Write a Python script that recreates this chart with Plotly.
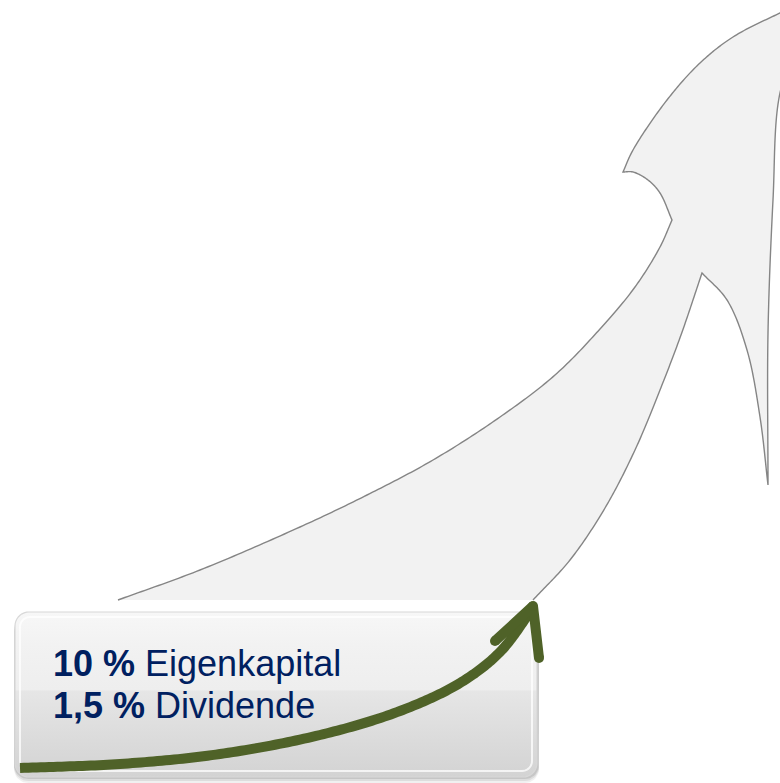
import numpy as np
import plotly.graph_objects as go

W, H = 780, 783

# ---- text content ----
BOLD_PARTS = ["10 %", "1,5 %"]
REG_PARTS = ["Eigenkapital", "Dividende"]
TEXT_ROWS_PY = [663, 705]

# ---- outline of the big grey arrow (pixel coords, y downwards), per segment ----
BODY_UPPER = [(118, 600), (200, 570), (300, 527), (367, 495), (433, 460), (500, 417), (555, 375), (600, 329), (635, 287), (660, 247), (672, 220)]
HEAD_NOTCH = [(672, 220), (660, 193), (648, 180), (633, 172), (623, 172)]
HEAD_LEFT = [(623, 172), (633, 150), (667, 100), (700, 63), (733, 37), (780, 13), (820, -5)]
HEAD_RIGHT = [(835, -20), (800, 40), (780, 93), (773, 200), (768, 333), (768, 485)]
HEAD_INNER = [(768, 485), (760, 417), (747, 350), (727, 300), (702, 273)]
BODY_LOWER = [(702, 273), (681, 335), (660, 390), (635, 450), (605, 508), (570, 560), (533, 600)]

# ---- green growth arrow ----
SHAFT = [(20, 768), (120, 764), (220, 754), (320, 735), (400, 711), (460, 683), (500, 652), (533, 608)]
ARROW_HEAD = [(495, 641), (533, 606), (539, 658)]

# ---- box ----
BOX = (15, 612, 537, 777)   # x0, y0, x1, y1
BOX_R = 14


def catmull(pts, n=24, alpha=0.5):
    p = np.array(pts, dtype=float)
    if len(p) < 3:
        return p
    P = np.vstack([2 * p[0] - p[1], p, 2 * p[-1] - p[-2]])
    out = []
    for i in range(1, len(P) - 2):
        p0, p1, p2, p3 = P[i - 1], P[i], P[i + 1], P[i + 2]
        t0 = 0.0
        t1 = t0 + max(np.linalg.norm(p1 - p0), 1e-6) ** alpha
        t2 = t1 + max(np.linalg.norm(p2 - p1), 1e-6) ** alpha
        t3 = t2 + max(np.linalg.norm(p3 - p2), 1e-6) ** alpha
        for t in np.linspace(t1, t2, n, endpoint=False):
            a1 = (t1 - t) / (t1 - t0) * p0 + (t - t0) / (t1 - t0) * p1
            a2 = (t2 - t) / (t2 - t1) * p1 + (t - t1) / (t2 - t1) * p2
            a3 = (t3 - t) / (t3 - t2) * p2 + (t - t2) / (t3 - t2) * p3
            b1 = (t2 - t) / (t2 - t0) * a1 + (t - t0) / (t2 - t0) * a2
            b2 = (t3 - t) / (t3 - t1) * a2 + (t - t1) / (t3 - t1) * a3
            out.append((t2 - t) / (t2 - t1) * b1 + (t - t1) / (t2 - t1) * b2)
    out.append(p[-1])
    return np.array(out)


def fy(py):
    return H - np.asarray(py, dtype=float)


def rrect(x0, y0, x1, y1, r, n=10):
    pts = []
    corners = [(x1 - r, y0 + r, -90, 0), (x1 - r, y1 - r, 0, 90), (x0 + r, y1 - r, 90, 180), (x0 + r, y0 + r, 180, 270)]
    for cx, cy, a0, a1 in corners:
        for a in np.linspace(np.radians(a0), np.radians(a1), n):
            pts.append((cx + r * np.cos(a), cy + r * np.sin(a)))
    pts.append(pts[0])
    return np.array(pts)


fig = go.Figure()

# big arrow fill
segs = [BODY_UPPER, HEAD_NOTCH, HEAD_LEFT, HEAD_RIGHT, HEAD_INNER, BODY_LOWER]
poly = np.vstack([catmull(s) for s in segs])
fig.add_trace(go.Scatter(x=poly[:, 0], y=fy(poly[:, 1]), mode="lines", fill="toself",
                         fillcolor="#f2f2f2", line=dict(width=0, simplify=False), hoverinfo="skip"))
# outline (open paths: no stroke on the bottom join)
for part in [[BODY_UPPER, HEAD_NOTCH, HEAD_LEFT], [HEAD_RIGHT, HEAD_INNER, BODY_LOWER]]:
    p = np.vstack([catmull(s) for s in part])
    fig.add_trace(go.Scatter(x=p[:, 0], y=fy(p[:, 1]), mode="lines",
                             line=dict(color="#858585", width=1.4, simplify=False), hoverinfo="skip"))

# box shadow
x0, y0, x1, y1 = BOX
for off, alpha in [(6, 0.06), (4, 0.08), (2, 0.10)]:
    s = rrect(x0 - 1, y0 + off + 2, x1 + 2, y1 + off, BOX_R)
    fig.add_trace(go.Scatter(x=s[:, 0], y=fy(s[:, 1]), mode="lines", fill="toself",
                             fillcolor=f"rgba(0,0,0,{alpha})", line=dict(width=0), hoverinfo="skip"))

# box body with vertical gradient
b = rrect(x0, y0, x1, y1, BOX_R)
fig.add_trace(go.Scatter(
    x=b[:, 0], y=fy(b[:, 1]), mode="lines", fill="toself",
    fillgradient=dict(type="vertical", start=H - y1, stop=H - y0,
                      colorscale=[[0, "#d3d3d3"], [0.25, "#dcdcdc"], [0.52, "#e6e6e6"],
                                  [0.53, "#eeeeee"], [0.8, "#f2f2f2"], [1, "#f7f7f7"]]),
    line=dict(color="#d8d8d8", width=1.2, simplify=False), hoverinfo="skip"))
# inner highlight rim
bi = rrect(x0 + 5, y0 + 5, x1 - 5, y1 - 6, BOX_R - 4)
fig.add_trace(go.Scatter(x=bi[:, 0], y=fy(bi[:, 1]), mode="lines",
                         line=dict(color="rgba(255,255,255,0.75)", width=2, simplify=False), hoverinfo="skip"))

# green arrow
GREEN = "#4f6228"
sh = catmull(SHAFT)
fig.add_trace(go.Scatter(x=sh[:, 0], y=fy(sh[:, 1]), mode="lines",
                         line=dict(color=GREEN, width=10, simplify=False), hoverinfo="skip"))
ah = np.array(ARROW_HEAD, dtype=float)
fig.add_trace(go.Scatter(x=ah[:, 0], y=fy(ah[:, 1]), mode="lines+markers",
                         line=dict(color=GREEN, width=10, simplify=False),
                         marker=dict(color=GREEN, size=10, line=dict(width=0)), hoverinfo="skip"))

# text
for bold, reg, py in zip(BOLD_PARTS, REG_PARTS, TEXT_ROWS_PY):
    fig.add_annotation(x=51, y=H - py, xref="x", yref="y", xanchor="left", yanchor="middle",
                       text=f"<b>{bold}</b> {reg}", showarrow=False,
                       font=dict(family="Liberation Sans, Arial, sans-serif", size=36, color="#002060"))

fig.update_layout(
    width=W, height=H, margin=dict(l=0, r=0, t=0, b=0),
    paper_bgcolor="white", plot_bgcolor="white", showlegend=False,
    xaxis=dict(range=[0, W], visible=False, fixedrange=True),
    yaxis=dict(range=[0, H], visible=False, fixedrange=True),
)

fig.write_html("out.html", config={"displayModeBar": False},
               post_script="document.body.style.margin='0';document.body.style.overflow='hidden';")
